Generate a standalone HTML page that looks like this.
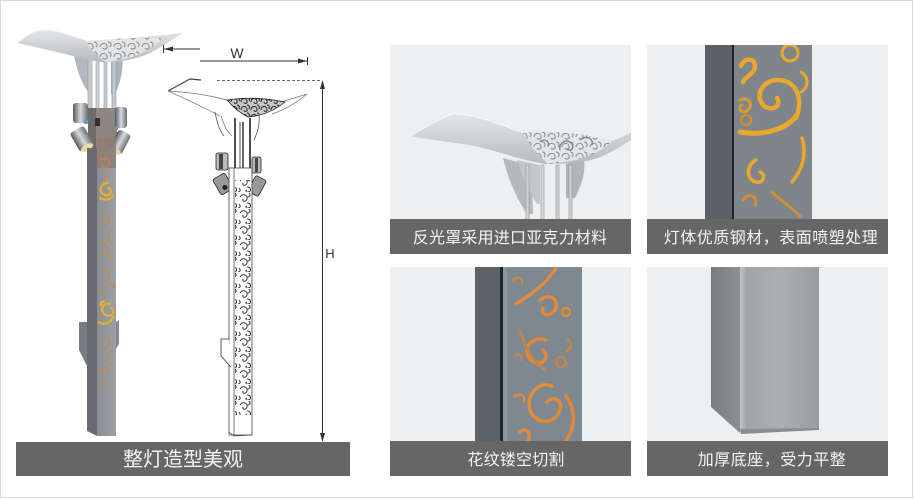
<!DOCTYPE html>
<html><head><meta charset="utf-8">
<style>
html,body{margin:0;padding:0;background:#fff;}
svg{display:block;}
text{font-family:"Liberation Sans","Noto Sans CJK SC",sans-serif;}
</style></head><body>
<svg width="915" height="499" viewBox="0 0 915 499" xmlns="http://www.w3.org/2000/svg">
<defs>
  <pattern id="curl" width="14" height="16" patternUnits="userSpaceOnUse">
    <path d="M2,5 c3,-4 8,-2 7,2 c-1,3 -5,3 -4,0 M9,11 c4,0 5,4 1,5 c-2,1 -3,-1 -1,-2 M1,12 c2,2 1,4 -1,4 M11,1 c2,2 1,4 -2,4" fill="none" stroke="#222" stroke-width="1"/>
  </pattern>
  <pattern id="orn" width="14" height="10" patternUnits="userSpaceOnUse">
    <path d="M2,7 c0,-4 6,-5 7,-1 c1,3 -3,4 -4,2 M10,2 c3,0 4,3 2,5" fill="none" stroke="#85888b" stroke-width="1"/>
  </pattern>
  <pattern id="ornD" width="10" height="8" patternUnits="userSpaceOnUse">
    <path d="M1,6 c0,-4 5,-5 6,-1 c1,3 -3,3 -3,1 M7,1 c2,0 3,2 2,4" fill="none" stroke="#222" stroke-width="1"/>
  </pattern>
  <linearGradient id="shade" x1="0" y1="0" x2="0" y2="1">
    <stop offset="0" stop-color="#e4e6e8"/><stop offset="1" stop-color="#b8bbbe"/>
  </linearGradient>
  <linearGradient id="spot" x1="0" y1="0" x2="1" y2="0">
    <stop offset="0" stop-color="#55595d"/><stop offset="0.5" stop-color="#d6dadd"/><stop offset="1" stop-color="#6c7074"/>
  </linearGradient>
  <linearGradient id="poleF" x1="0" y1="0" x2="1" y2="0">
    <stop offset="0" stop-color="#8c9095"/><stop offset="1" stop-color="#9b9fa3"/>
  </linearGradient>
  <linearGradient id="baseF" x1="0" y1="0" x2="1" y2="0">
    <stop offset="0" stop-color="#c3c5c7"/><stop offset="0.08" stop-color="#a2a4a7"/><stop offset="0.5" stop-color="#adafb2"/><stop offset="1" stop-color="#9a9ca0"/>
  </linearGradient>
  <linearGradient id="baseS" x1="0" y1="0" x2="1" y2="0">
    <stop offset="0" stop-color="#7a7d80"/><stop offset="1" stop-color="#8d9093"/>
  </linearGradient>
  <clipPath id="c1"><rect x="390" y="45" width="241" height="174"/></clipPath>
  <clipPath id="c2"><rect x="647" y="45" width="241" height="174"/></clipPath>
  <clipPath id="c3"><rect x="390" y="267" width="241" height="174"/></clipPath>
  <clipPath id="c4"><rect x="647" y="267" width="241" height="174"/></clipPath>
</defs>

<rect x="0.5" y="0.5" width="912" height="497" fill="#fff" stroke="#d9d9d9" stroke-width="1"/>

<!-- ===== LEFT: colored pole ===== -->
<g>
  <path d="M74,56 C77,70 81,82 88,92 L92,92 L91,60 Z" fill="#b4b8bc"/>
  <path d="M122,54 C124,68 121,82 115,94 L111,94 L111,58 Z" fill="#b0b4b8"/>
  <rect x="88" y="58" width="4" height="54" fill="#c6ccd2" stroke="#8f969c" stroke-width="0.6"/>
  <rect x="96" y="58" width="3" height="54" fill="#d0d5da" stroke="#8f969c" stroke-width="0.6"/>
  <rect x="104" y="58" width="3" height="54" fill="#c6ccd2" stroke="#8f969c" stroke-width="0.6"/>
  <rect x="112" y="58" width="4" height="54" fill="#c0c7ce" stroke="#8f969c" stroke-width="0.6"/>
  <path d="M17,43 C25,37 32,31 40,30 C58,29 74,37 88,41 C112,40 145,37 183,33 C170,41 160,48 150,53 C135,60 115,63 100,62 C80,58 50,50 17,43 Z" fill="url(#shade)"/>
  <path d="M86,41 C112,39 138,37 162,38 C152,50 132,60 106,62 C97,57 91,50 86,41 Z" fill="#e3e4e5"/>
  <path d="M86,41 C112,39 138,37 162,38 C152,50 132,60 106,62 C97,57 91,50 86,41 Z" fill="url(#orn)"/>
  <path d="M17,43 C25,37 32,31 40,30 C58,29 74,37 88,41" fill="none" stroke="#f4f5f6" stroke-width="1"/>
  <rect x="88" y="108" width="29" height="42" fill="#8e8580"/>
  <rect x="88" y="108" width="8" height="42" fill="#6f6b69"/>
  <rect x="95" y="118" width="5" height="8" fill="#2e3135"/>
  <rect x="73" y="103" width="15" height="20" rx="3" fill="url(#spot)"/>
  <rect x="84" y="120" width="4" height="4" fill="#5aa0d0"/>
  <rect x="115" y="107" width="12" height="21" rx="3" fill="url(#spot)"/>
  <rect x="115" y="126" width="3" height="4" fill="#5aa0d0"/>
  <g transform="translate(82,139) rotate(-30)">
    <rect x="-8" y="-11" width="16" height="22" rx="3" fill="url(#spot)"/>
    <ellipse cx="0" cy="10" rx="7" ry="3" fill="#e8dca8"/>
  </g>
  <g transform="translate(120,142) rotate(28)">
    <rect x="-7" y="-11" width="14" height="22" rx="3" fill="url(#spot)"/>
    <ellipse cx="0" cy="10" rx="6" ry="3" fill="#e0d8b0"/>
  </g>
  <path d="M87,148 L97,148 L97,436 L87,431 Z" fill="#686c71"/>
  <rect x="97" y="148" width="19" height="288" fill="url(#poleF)"/>
  <rect x="97" y="138" width="19" height="30" fill="#8f7e74" opacity="0.85"/>
  <path d="M79,322 L87,322 L87,366 L79,350 Z" fill="#777c81"/>
  <path d="M116,322 L119,320 L119,344 L116,349 Z" fill="#868b90"/>
  <g fill="none" stroke="#c08a4a" stroke-width="1.5" stroke-linecap="round" opacity="0.9">
    <path d="M100,160 c5,-4 12,0 8,6 c-3,4 -8,1 -5,-2"/>
    <path d="M110,172 c-6,3 -8,10 -2,13"/>
    <path d="M101,215 c6,-3 12,3 7,8 c-4,3 -8,-1 -5,-3"/>
    <path d="M112,230 c-5,5 -5,12 1,14"/>
    <path d="M100,245 c4,-3 9,0 7,4"/>
    <path d="M100,255 c4,-5 12,-2 10,5"/>
    <path d="M104,270 c6,2 8,9 2,12"/>
    <path d="M99,290 c4,0 8,5 5,9"/>
    <path d="M108,285 c3,-3 7,-1 6,3"/>
    <path d="M102,338 c6,-2 11,4 6,9 c-4,3 -8,-1 -5,-3"/>
    <path d="M112,350 c-5,4 -6,12 0,15"/>
    <path d="M99,370 c4,-4 10,-1 8,5"/>
    <path d="M104,380 c3,2 4,6 1,8"/>
  </g>
  <g fill="none" stroke="#e7ad2e" stroke-width="2.2" stroke-linecap="round">
    <path d="M108,183 c-8,0 -10,10 -3,12 c6,2 8,-6 3,-7"/>
    <path d="M100,198 c5,3 11,2 13,-3"/>
    <path d="M110,304 c-8,-2 -11,8 -4,11 c7,3 10,-5 5,-7"/>
    <path d="M101,305 c0,-3 2,-4 3,-3"/>
    <path d="M99,322 c5,4 12,1 14,-5"/>
  </g>
</g>

<!-- ===== LEFT: sketch pole ===== -->
<g fill="none" stroke="#333" stroke-width="0.8">
  <path d="M168,91 L190,79 L201,80" stroke="#444" stroke-width="1.2"/>
  <path d="M168,91 C185,92 205,94 227,100" stroke="#777"/>
  <path d="M168,91 C188,100 205,108 220,116" stroke="#888"/>
  <path d="M278,103 L307,94 C296,103 285,110 272,114" stroke="#777"/>
  <path d="M227,100 C245,97 265,98 285,102 C275,110 262,116 248,117 C238,112 232,106 227,100 Z" fill="#c8c8c8" stroke="#222"/>
  <path d="M227,100 C245,97 265,98 285,102 C275,110 262,116 248,117 C238,112 232,106 227,100 Z" fill="url(#ornD)" stroke="none"/>
  <path d="M215,112 C217,122 219,130 224,136" stroke="#555"/>
  <path d="M221,116 C224,125 227,132 232,136" stroke="#777"/>
  <path d="M259,114 C260,124 258,132 254,140" stroke="#555"/>
  <line x1="235" y1="118" x2="235" y2="172" stroke="#222" stroke-width="1.6"/>
  <line x1="240" y1="122" x2="240" y2="170" stroke="#555" stroke-width="1"/>
  <line x1="243" y1="122" x2="243" y2="170" stroke="#222" stroke-width="1.4"/>
  <line x1="250" y1="118" x2="250" y2="172" stroke="#222" stroke-width="1.6"/>
  <rect x="216" y="153" width="12" height="17" rx="2" fill="#bbb" stroke="#222"/>
  <rect x="219" y="154" width="4" height="15" fill="#444" stroke="none"/>
  <rect x="252" y="157" width="9" height="16" rx="2" fill="#bbb" stroke="#222"/>
  <rect x="255" y="158" width="3" height="14" fill="#444" stroke="none"/>
  <g transform="translate(223,184) rotate(-30)">
    <rect x="-7" y="-9" width="14" height="18" rx="2" fill="#999" stroke="#222"/>
    <circle cx="0" cy="4" r="2.5" fill="#222" stroke="none"/>
  </g>
  <g transform="translate(257,186) rotate(28)">
    <rect x="-6" y="-9" width="12" height="18" rx="2" fill="#999" stroke="#222"/>
  </g>
  <rect x="229" y="168" width="23" height="267" fill="#fff" stroke="#444"/>
  <line x1="234" y1="168" x2="234" y2="436" stroke="#555"/>
  <rect x="235" y="180" width="16" height="235" fill="url(#curl)" stroke="none" opacity="0.9"/>
  <path d="M229,432 L234,436 L252,435" stroke="#444"/>
  <path d="M229,339 L221,339 L221,356 L231,367" fill="#fff" stroke="#333"/>
</g>

<g stroke="#333" stroke-width="1" fill="none">
  <line x1="163" y1="49" x2="200" y2="49"/>
  <line x1="163.5" y1="45" x2="163.5" y2="53"/>
  <line x1="200" y1="61" x2="307" y2="61"/>
  <line x1="307.5" y1="57" x2="307.5" y2="65"/>
  <line x1="217" y1="80.5" x2="322" y2="80.5" stroke="#666" stroke-dasharray="3,2"/>
  <line x1="322.5" y1="82" x2="322.5" y2="440"/>
</g>
<g fill="#333">
  <polygon points="164,49 173,46.5 173,51.5"/>
  <polygon points="307,61 298,58.5 298,63.5"/>
  <polygon points="322.5,80 320,89 325,89"/>
  <polygon points="322.5,442 320,433 325,433"/>
</g>
<text x="237" y="58" font-size="14" fill="#333" text-anchor="middle">W</text>
<text x="330" y="258" font-size="13" fill="#333" text-anchor="middle">H</text>

<rect x="16" y="442" width="334" height="34" fill="#666"/>
<text x="183" y="466" font-size="20" fill="#f4f4f4" text-anchor="middle">整灯造型美观</text>

<!-- ===== PANEL 1 ===== -->
<rect x="390" y="45" width="241" height="209" fill="#edeff1"/>
<g clip-path="url(#c1)">
  <path d="M503,158 C508,178 515,196 527,214 L533,214 L531,166 Z" fill="#b6b9bc"/>
  <path d="M517,160 C522,175 528,190 537,204 L540,204 L540,165 Z" fill="#c4c7ca"/>
  <path d="M584,158 C586,172 581,186 575,198 L566,198 L566,164 Z" fill="#b2b5b8"/>
  <rect x="526" y="165" width="3" height="60" fill="#cfd3d7" stroke="#8e9397" stroke-width="0.6"/>
  <rect x="541" y="165" width="3" height="60" fill="#d6dadd" stroke="#8e9397" stroke-width="0.6"/>
  <rect x="556" y="165" width="3" height="60" fill="#cfd3d7" stroke="#8e9397" stroke-width="0.6"/>
  <rect x="569" y="165" width="3" height="60" fill="#cfd3d7" stroke="#8e9397" stroke-width="0.6"/>
  <path d="M410,136 C425,128 440,118 452,114 C470,113 495,122 523,133 C545,130 575,132 612,141 C620,138 626,135 634,131 L634,138 C622,146 612,152 600,157 C588,162 570,164 545,164 C520,160 495,150 470,145 C450,142 430,140 410,136 Z" fill="url(#shade)"/>
  <path d="M523,133 C545,130 580,132 612,141 C600,153 580,162 548,164 C538,155 530,145 523,133 Z" fill="#e4e5e6"/>
  <path d="M523,133 C545,130 580,132 612,141 C600,153 580,162 548,164 C538,155 530,145 523,133 Z" fill="url(#orn)"/>
  <g fill="none" stroke="#7f8285" stroke-width="1.4">
    <path d="M560,150 c-2,-8 8,-12 12,-6 c3,5 -3,8 -5,5"/>
    <path d="M580,140 c5,-5 14,-2 12,5"/>
    <path d="M540,142 c4,-4 10,-1 8,4"/>
  </g>
  <path d="M410,136 C425,128 440,118 452,114 C470,113 495,122 523,133" fill="none" stroke="#f6f7f8" stroke-width="1"/>
</g>
<rect x="390" y="219" width="241" height="35" fill="#666"/>
<text x="510" y="243" font-size="16" fill="#f4f4f4" text-anchor="middle" letter-spacing="0.2">反光罩采用进口亚克力材料</text>

<!-- ===== PANEL 2 ===== -->
<rect x="647" y="45" width="241" height="209" fill="#edeff1"/>
<g clip-path="url(#c2)">
  <rect x="705" y="45" width="28" height="174" fill="#5b6064"/>
  <rect x="732" y="45" width="2" height="174" fill="#1e2022"/>
  <rect x="734" y="45" width="78" height="174" fill="#7e858b"/>
  <g fill="none" stroke="#e9a82c" stroke-width="4.5" stroke-linecap="round">
    <path d="M741,66 c3,-9 14,-8 14,0 c0,8 -10,10 -12,16"/>
    <circle cx="790" cy="53" r="8" stroke-width="3"/>
    <path d="M796,118 C804,98 796,80 778,80 C762,80 754,96 764,106 C772,112 782,106 777,98"/>
    <path d="M796,116 C786,130 762,136 740,132" stroke-width="5"/>
    <path d="M740,100 c8,-4 14,4 8,10 c-6,5 -11,-2 -6,-5" stroke-width="3" stroke="#d89a30"/>
    <circle cx="746" cy="120" r="5" stroke-width="2.5" stroke="#c98f35"/>
    <path d="M802,138 C807,155 802,170 792,182" stroke-width="3.5"/>
    <path d="M756,160 c-10,5 -10,20 0,22 c8,2 10,-8 4,-10" stroke-width="3.5"/>
    <path d="M772,192 C780,200 790,206 800,216" stroke-width="3" stroke="#d4902e"/>
    <path d="M743,200 c5,-8 15,-5 12,5" stroke-width="3" stroke="#d4902e"/>
    <path d="M801,72 c8,5 8,15 0,20" stroke-width="3"/>
  </g>
</g>
<rect x="647" y="219" width="241" height="35" fill="#666"/>
<text x="771" y="243" font-size="16" fill="#f4f4f4" text-anchor="middle" letter-spacing="0.5">灯体优质钢材，表面喷塑处理</text>

<!-- ===== PANEL 3 ===== -->
<rect x="390" y="267" width="241" height="209" fill="#edeff1"/>
<g clip-path="url(#c3)">
  <rect x="475" y="267" width="26" height="174" fill="#5d6266"/>
  <rect x="500" y="267" width="3" height="174" fill="#23272a"/>
  <rect x="503" y="267" width="4" height="174" fill="#8f979c"/>
  <rect x="507" y="267" width="75" height="174" fill="#7d8891"/>
  <g fill="none" stroke="#e08a3a" stroke-width="3.5" stroke-linecap="round">
    <path d="M516,304 C532,294 546,284 556,268"/>
    <path d="M540,300 c10,-8 20,0 15,10 c-5,8 -15,5 -12,-2"/>
    <circle cx="566" cy="312" r="4" stroke-width="2.5"/>
    <path d="M546,340 c-15,-5 -25,10 -15,20 c10,8 20,-2 12,-10"/>
    <path d="M520,330 C525,345 530,360 545,370" stroke="#c98548" stroke-width="2.5"/>
    <circle cx="561" cy="362" r="5" stroke-width="2.5" stroke="#c98548"/>
    <path d="M514,397 c5,-5 12,-2 10,5" stroke-width="2.5"/>
    <path d="M552,386 C540,380 525,395 530,410 C535,425 555,425 560,410 C563,400 552,395 547,402"/>
    <path d="M566,396 C576,410 576,426 566,441"/>
    <path d="M520,432 c5,-5 12,0 8,8"/>
    <path d="M513,280 c4,-4 10,-2 9,3" stroke-width="2.5" stroke="#c98548"/>
    <path d="M568,340 c4,3 4,9 -1,11" stroke-width="2.5" stroke="#c98548"/>
    <path d="M515,355 c4,-2 8,1 6,5" stroke-width="2.5" stroke="#c98548"/>
  </g>
</g>
<rect x="390" y="441" width="241" height="35" fill="#666"/>
<text x="516" y="465" font-size="16" fill="#f4f4f4" text-anchor="middle" letter-spacing="0.2">花纹镂空切割</text>

<!-- ===== PANEL 4 ===== -->
<rect x="647" y="267" width="241" height="209" fill="#edeff1"/>
<g clip-path="url(#c4)">
  <path d="M711,267 L740,267 L740,433 L711,407 Z" fill="url(#baseS)"/>
  <rect x="740" y="267" width="79" height="162" fill="url(#baseF)"/>
  <path d="M740,429 L819,428 L819,430 L741,434 Z" fill="#8a8c90"/>
</g>
<rect x="647" y="441" width="241" height="35" fill="#666"/>
<text x="772" y="465" font-size="16" fill="#f4f4f4" text-anchor="middle" letter-spacing="0.5">加厚底座，受力平整</text>
</svg>
</body></html>
